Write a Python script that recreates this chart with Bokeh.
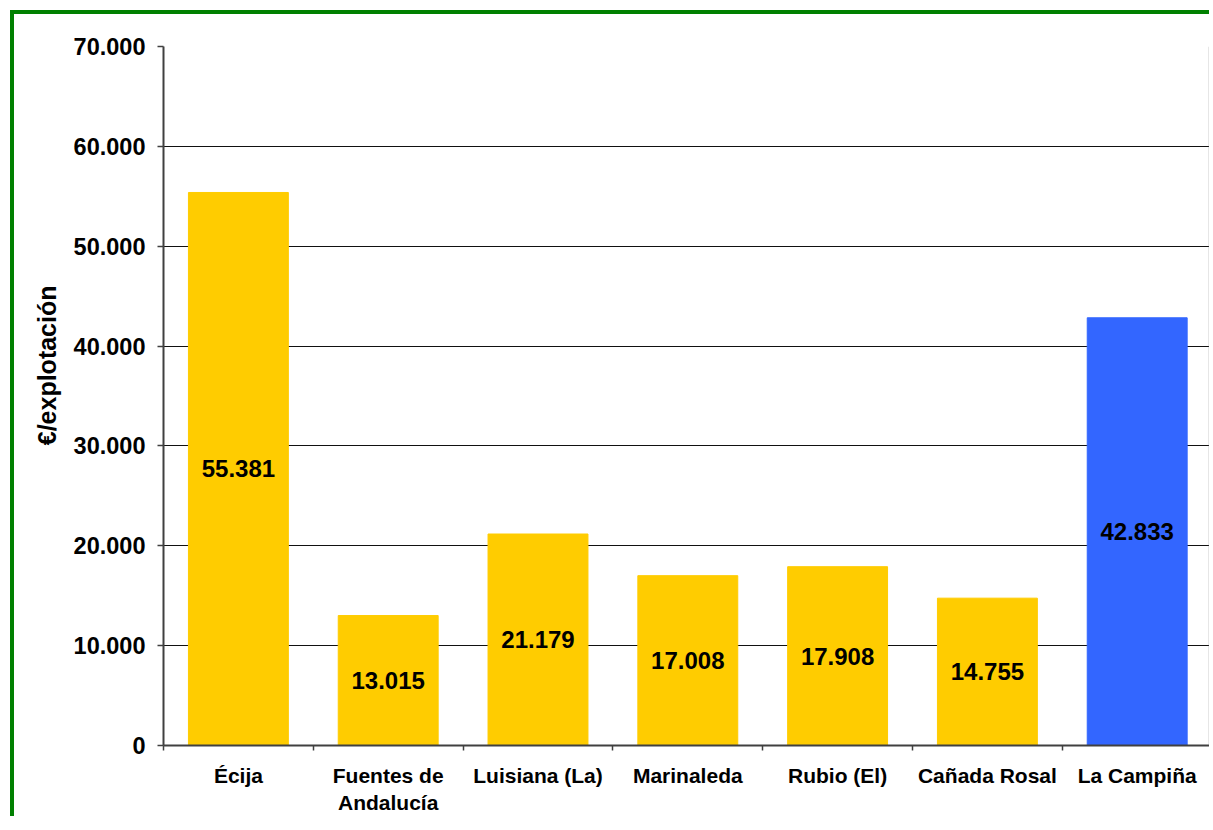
from bokeh.plotting import figure
from bokeh.models import Range1d, FixedTicker, Span, Title, ColumnDataSource
from bokeh.core.properties import value
from bokeh.embed import file_html
from bokeh.resources import INLINE

# ---- data ----
categories = ["Écija", "Fuentes de\nAndalucía", "Luisiana (La)", "Marinaleda",
              "Rubio (El)", "Cañada Rosal", "La Campiña"]
values = [55381, 13015, 21179, 17008, 17908, 14755, 42833]
highlight = "La Campiña"
y_ticks = [0, 10000, 20000, 30000, 40000, 50000, 60000, 70000]
y_label = "€/explotación"

FONT = "Liberation Sans"
YELLOW = "#FFCC00"
BLUE = "#3366FF"


def es_fmt(v):
    return f"{v:,}".replace(",", ".")


n = len(categories)
centers = [i + 0.5 for i in range(n)]
bounds = [float(i) for i in range(n + 1)]
colors = [BLUE if c == highlight else YELLOW for c in categories]
src = ColumnDataSource(dict(
    x=centers, top=values, mid=[v / 2 for v in values],
    color=colors, lab=[es_fmt(v) for v in values],
))

X_END = 6.996
W, H = 1199, 806
p = figure(width=W, height=H, output_backend="svg", toolbar_location=None,
           x_range=Range1d(0, X_END), y_range=Range1d(0, 70000),
           min_border_left=149, min_border_top=32, min_border_bottom=75,
           min_border_right=2)
p.margin = (10, 0, 0, 10)
p.styles = {"border-top": "4px solid #008000", "border-left": "4px solid #008000"}
p.outline_line_color = None
p.background_fill_color = "white"
p.border_fill_color = "white"

p.vbar(x="x", top="top", bottom=0, width=0.667, color="color", source=src)
p.text(x="x", y="mid", text="lab", source=src, text_align="center",
       text_baseline="middle", text_font=value(FONT), text_font_style="bold",
       text_font_size="24px", text_color="black")

# x axis
xa = p.xaxis[0]
xa.ticker = FixedTicker(ticks=centers, minor_ticks=bounds)
xa.major_label_overrides = {c: lab for c, lab in zip(centers, categories)}
xa.major_tick_out = 0
xa.major_tick_in = 0
xa.minor_tick_out = 5
xa.minor_tick_in = 0
xa.minor_tick_line_color = "#404040"
xa.minor_tick_line_width = 1.5
xa.axis_line_color = "#404040"
xa.axis_line_width = 2
xa.major_label_standoff = 13
xa.major_label_text_font = FONT
xa.major_label_text_font_style = "bold"
xa.major_label_text_font_size = "21px"
xa.major_label_text_color = "black"

# y axis
ya = p.yaxis[0]
ya.ticker = FixedTicker(ticks=y_ticks)
ya.major_label_overrides = {t: es_fmt(t) for t in y_ticks}
ya.major_tick_out = 6
ya.major_tick_in = 0
ya.minor_tick_line_color = None
ya.major_tick_line_color = "#404040"
ya.major_tick_line_width = 1.5
ya.axis_line_color = "#404040"
ya.axis_line_width = 2
ya.major_label_standoff = 12
ya.major_label_text_font = FONT
ya.major_label_text_font_style = "bold"
ya.major_label_text_font_size = "23.5px"
ya.major_label_text_color = "black"

p.xgrid.grid_line_color = None
p.ygrid.ticker = FixedTicker(ticks=y_ticks)
p.ygrid.grid_line_color = "#111111"
p.ygrid.grid_line_width = 1.2

# right border line of plot area
p.add_layout(Span(location=X_END - 0.008, dimension="height",
                  line_color="#808080", line_width=3))

p.add_layout(Title(text=y_label, align="right", offset=239, standoff=20,
                   text_font=FONT, text_font_style="bold",
                   text_font_size="25px", text_color="black"), "left")

open("out.html", "w").write(file_html(p, INLINE))
